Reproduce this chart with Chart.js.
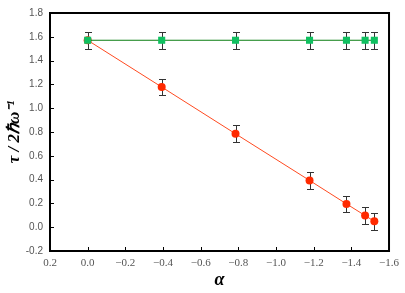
<!DOCTYPE html>
<html><head><meta charset="utf-8">
<script src="https://cdn.jsdelivr.net/npm/chart.js@4"></script>
<style>html,body{margin:0;padding:0;background:#fff}#wrap{width:405px;height:293px}</style>
</head><body><div id="wrap"><canvas id="c" width="405" height="293"></canvas></div>
<script>
const alpha = [0, -0.393, -0.785, -1.178, -1.374, -1.473, -1.522];
const tauConst = [1.571, 1.571, 1.571, 1.571, 1.571, 1.571, 1.571];
const tauLinear = [1.571, 1.178, 0.785, 0.393, 0.196, 0.098, 0.049];
const errConst = [0.07, 0.07, 0.07, 0.07, 0.07, 0.07, 0.07];
const errLinear = [0.07, 0.07, 0.07, 0.07, 0.07, 0.07, 0.07];
const xTicks = [0.2, 0.0, -0.2, -0.4, -0.6, -0.8, -1.0, -1.2, -1.4, -1.6];
const yTicks = [-0.2, 0.0, 0.2, 0.4, 0.6, 0.8, 1.0, 1.2, 1.4, 1.6, 1.8];

const pts = (ys) => alpha.map((x, i) => ({x: x, y: ys[i]}));

const errorBars = {
  id: 'errorBars',
  beforeDatasetsDraw(chart) {
    const ctx = chart.ctx;
    const xs = chart.scales.x, ys = chart.scales.y;
    ctx.save();
    ctx.strokeStyle = '#333';
    ctx.lineWidth = 1;
    chart.data.datasets.forEach((ds) => {
      const errs = ds.errors;
      ds.data.forEach((p, i) => {
        const px = Math.round(xs.getPixelForValue(p.x)) + 0.5;
        const y1 = Math.round(ys.getPixelForValue(p.y + errs[i])) + 0.5;
        const y2 = Math.round(ys.getPixelForValue(p.y - errs[i])) + 0.5;
        ctx.beginPath();
        ctx.moveTo(px, y1); ctx.lineTo(px, y2);
        ctx.moveTo(px - 3.5, y1); ctx.lineTo(px + 3.5, y1);
        ctx.moveTo(px - 3.5, y2); ctx.lineTo(px + 3.5, y2);
        ctx.stroke();
      });
    });
    ctx.restore();
  }
};

const frame = {
  id: 'frame',
  afterDraw(chart) {
    const ctx = chart.ctx;
    const a = chart.chartArea;
    const xs = chart.scales.x, ys = chart.scales.y;
    ctx.save();
    ctx.strokeStyle = '#000';
    ctx.lineWidth = 1;
    ctx.beginPath();
    xTicks.forEach(v => {
      const px = Math.round(xs.getPixelForValue(v)) + 0.5;
      ctx.moveTo(px, a.bottom); ctx.lineTo(px, a.bottom - 4);
    });
    yTicks.forEach(v => {
      const py = Math.round(ys.getPixelForValue(v)) + 0.5;
      ctx.moveTo(a.left, py); ctx.lineTo(a.left + 4, py);
    });
    ctx.stroke();
    ctx.lineWidth = 2;
    ctx.strokeRect(a.left, a.top, a.right - a.left, a.bottom - a.top);
    ctx.restore();
  }
};

new Chart(document.getElementById('c'), {
  type: 'scatter',
  data: {
    datasets: [
      {
        data: pts(tauConst), errors: errConst, showLine: true,
        borderColor: '#0a7d12', borderWidth: 1,
        pointStyle: 'rect', pointRadius: 5, pointBackgroundColor: '#10c060', pointBorderColor: '#10c060', pointBorderWidth: 0
      },
      {
        data: pts(tauLinear), errors: errLinear, showLine: true,
        borderColor: '#ff4a20', borderWidth: 1,
        pointStyle: 'circle', pointRadius: 4, pointBackgroundColor: '#ff2a00', pointBorderColor: '#ff2a00', pointBorderWidth: 0
      }
    ]
  },
  options: {
    responsive: false, animation: false,
    layout: {padding: {top: 3, right: 8, left: 0, bottom: 0}},
    plugins: {legend: {display: false}, tooltip: {enabled: false}},
    scales: {
      x: {
        type: 'linear', reverse: true, min: -1.6, max: 0.2,
        afterBuildTicks(s) { s.ticks = xTicks.map(v => ({value: v})); },
        afterFit(s) { s.height = 42; },
        grid: {display: false, drawTicks: false},
        border: {display: false},
        ticks: {
          padding: 6, color: '#555',
          font: {family: 'Liberation Serif', size: 11},
          callback: (v) => (v < -0.001 ? '\u2212' + Math.abs(v).toFixed(1) : Math.abs(v).toFixed(1))
        },
        title: {display: true, text: 'α', color: '#000', padding: {top: 0, bottom: 2},
          font: {family: 'Liberation Serif', size: 18, weight: 'bold', style: 'italic'}}
      },
      y: {
        type: 'linear', min: -0.2, max: 1.8,
        afterBuildTicks(s) { s.ticks = yTicks.map(v => ({value: v})); },
        afterFit(s) { s.width = 50; },
        grid: {display: false, drawTicks: false},
        border: {display: false},
        ticks: {
          padding: 7, color: '#555',
          font: {family: 'Liberation Sans', size: 10},
          callback: (v) => v.toFixed(1)
        },
        title: {display: true, text: 'τ / 2ℏω⁻¹', color: '#000', padding: {top: 4, bottom: 0},
          font: {family: 'Liberation Serif', size: 17, weight: 'bold', style: 'italic'}}
      }
    }
  },
  plugins: [errorBars, frame]
});
</script>
</body></html>
